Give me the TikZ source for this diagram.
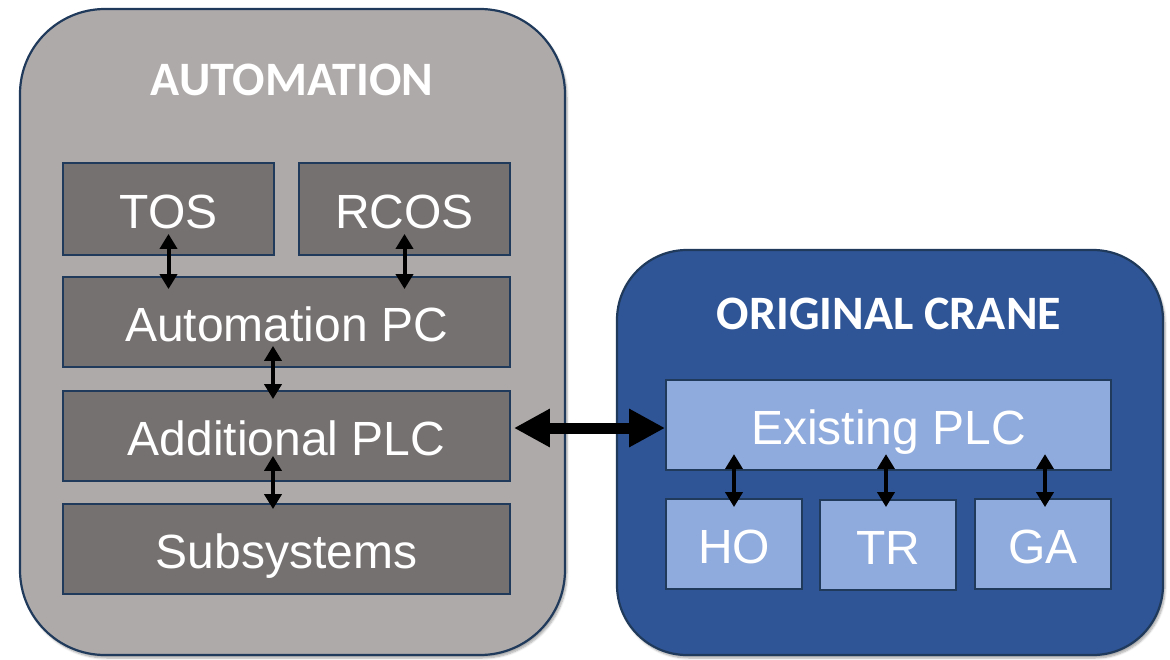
\documentclass[tikz,border=0pt]{standalone}
\usepackage{fontspec}
\setmainfont{Liberation Sans}
\newfontfamily\ttlfont{Carlito}
\usetikzlibrary{arrows.meta,calc,shadows.blur}
\definecolor{outergray}{HTML}{AEAAA9}
\definecolor{innergray}{HTML}{767171}
\definecolor{edgeblue}{HTML}{203A5C}
\definecolor{craneblue}{HTML}{2F5597}
\definecolor{lightblue}{HTML}{8FAADC}
\tikzset{
  outerbox/.style={draw=edgeblue, line width=2.2pt, inner sep=0pt,
    blur shadow={shadow xshift=2pt, shadow yshift=-3pt, shadow blur steps=6, shadow opacity=35}},
  graybox/.style={draw=edgeblue, line width=1.8pt, fill=innergray, inner sep=0pt,
    text=white, font=\fontsize{48}{50}\selectfont, text height=39.5pt, text depth=0pt},
  bluebox/.style={draw=edgeblue, line width=1.8pt, fill=lightblue, inner sep=0pt,
    text=white, font=\fontsize{48}{50}\selectfont, text height=39.5pt, text depth=0pt},
  titletext/.style={text=white, font=\ttlfont\bfseries\fontsize{48}{50}\selectfont},
  sarrow/.style={line width=4pt, {Triangle[width=17pt,length=15pt]}-{Triangle[width=17pt,length=15pt]}},
  barrow/.style={line width=11pt, {Triangle[width=36pt,length=36pt]}-{Triangle[width=36pt,length=36pt]}}
}
\begin{document}
\begin{tikzpicture}[x=1pt,y=-1pt]
\useasboundingbox (0,0) rectangle (1170,659);
% outer containers
\node[outerbox, fill=outergray, rounded corners=85pt, minimum width=545pt, minimum height=646pt] (auto) at (292.5,332) {};
\node[outerbox, fill=craneblue, rounded corners=70pt, minimum width=546pt, minimum height=405pt] (crane) at (890,452.5) {};
\node[titletext] (autotitle) at (292,80) {AUTOMATION};
\node[titletext] (cranetitle) at (889,314) {ORIGINAL CRANE};
% automation boxes
\node[graybox, minimum width=211pt, minimum height=92pt] (tos) at (168.5,209) {TOS};
\node[graybox, minimum width=211pt, minimum height=92pt] (rcos) at (404.5,209) {RCOS};
\node[graybox, minimum width=447pt, minimum height=90pt] (autopc) at (286.5,322) {Automation PC};
\node[graybox, minimum width=447pt, minimum height=90pt] (addplc) at (286.5,436) {Additional PLC};
\node[graybox, minimum width=447pt, minimum height=90pt] (subsys) at (286.5,549) {Subsystems};
% crane boxes
\node[bluebox, minimum width=445pt, minimum height=90pt] (exist) at (888.5,425) {Existing PLC};
\node[bluebox, minimum width=136pt, minimum height=90pt] (ho) at (734,544) {HO};
\node[bluebox, minimum width=136pt, minimum height=90pt] (tr) at (888,545) {TR};
\node[bluebox, minimum width=136pt, minimum height=90pt] (ga) at (1043,544) {GA};
% arrows
\draw[sarrow] ($(tos.south)+(0,-22)$) -- ($(tos.south |- autopc.north)+(0,13)$);
\draw[sarrow] ($(rcos.south)+(0,-22)$) -- ($(rcos.south |- autopc.north)+(0,13)$);
\draw[sarrow] ($(autopc.south)+(-13.5,-22)$) -- ($(autopc.south |- addplc.north)+(-13.5,9)$);
\draw[sarrow] ($(addplc.south)+(-13.5,-26)$) -- ($(addplc.south |- subsys.north)+(-13.5,6)$);
\draw[sarrow] ($(exist.south |- ho.north)+(-154.5,-44)$) -- ($(ho.north)+(0,9)$);
\draw[sarrow] ($(tr.north)+(-2,-45)$) -- ($(tr.north)+(-2,8)$);
\draw[sarrow] ($(ga.north)+(2,-44)$) -- ($(ga.north)+(2,9)$);
\draw[barrow] ($(addplc.east)+(3,-8)$) -- ($(addplc.east -| exist.west)+(0,-8)$);
\end{tikzpicture}
\end{document}
